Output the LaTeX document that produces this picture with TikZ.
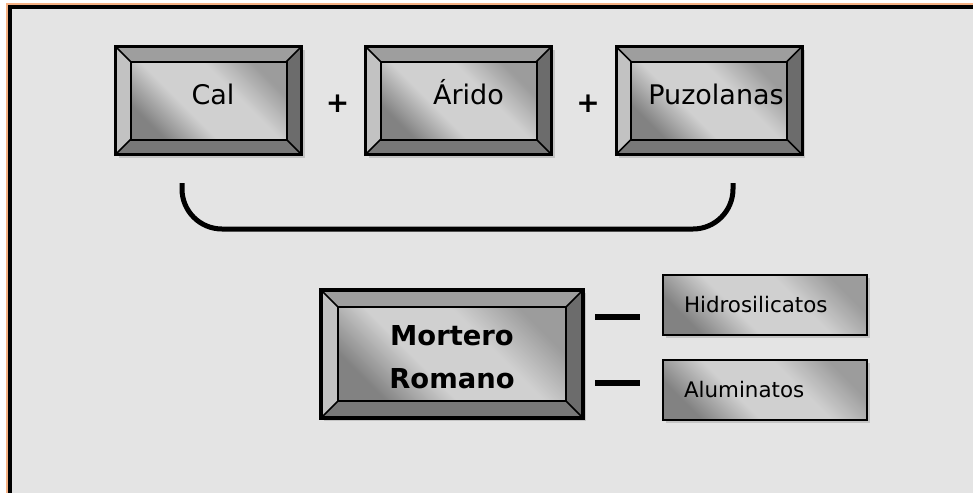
\documentclass[tikz,border=0pt]{standalone}
\usepackage{fontspec}
\setmainfont{DejaVu Sans}
\usetikzlibrary{shadows}

\definecolor{panel}{HTML}{E4E4E4}
\definecolor{frameorange}{HTML}{F6B183}
\definecolor{shadowgray}{HTML}{C4C4C4}
\definecolor{bevtop}{HTML}{9E9E9E}
\definecolor{bevleft}{HTML}{C2C2C2}
\definecolor{bevright}{HTML}{6C6C6C}
\definecolor{bevbottom}{HTML}{787878}
\definecolor{facedark}{HTML}{828282}
\definecolor{facelight}{HTML}{D0D0D0}
\definecolor{facemid}{HTML}{9C9C9C}

% diagonal face gradient: dark lower-left corner, broad light band, greyer upper-right corner
\pgfdeclareverticalshading{facegradient}{100bp}{%
  color(0bp)=(facedark); color(25bp)=(facedark); color(41bp)=(facelight);
  color(60bp)=(facelight); color(75bp)=(facemid); color(100bp)=(facemid)}

\tikzset{
  bevelsize/.store in=\bevsz, bevelsize=15pt,
  facegrad/.style={shading=facegradient, shading angle=-45},
  boxshadow/.style={drop shadow={shadow xshift=3pt, shadow yshift=-3pt, fill=shadowgray, opacity=1}},
  bevelbox/.style={
    rectangle, inner sep=0pt, draw=black, line width=3pt, boxshadow,
    path picture={
      \path (path picture bounding box.south west) coordinate (pp-sw)
            (path picture bounding box.south east) coordinate (pp-se)
            (path picture bounding box.north east) coordinate (pp-ne)
            (path picture bounding box.north west) coordinate (pp-nw);
      \path ([shift={(\bevsz,\bevsz)}]pp-sw) coordinate (pi-sw)
            ([shift={(-\bevsz,\bevsz)}]pp-se) coordinate (pi-se)
            ([shift={(-\bevsz,-\bevsz)}]pp-ne) coordinate (pi-ne)
            ([shift={(\bevsz,-\bevsz)}]pp-nw) coordinate (pi-nw);
      \fill[bevtop] (pp-nw) -- (pp-ne) -- (pi-ne) -- (pi-nw) -- cycle;
      \fill[bevleft] (pp-nw) -- (pi-nw) -- (pi-sw) -- (pp-sw) -- cycle;
      \fill[bevright] (pp-ne) -- (pp-se) -- (pi-se) -- (pi-ne) -- cycle;
      \fill[bevbottom] (pp-sw) -- (pi-sw) -- (pi-se) -- (pp-se) -- cycle;
      \draw[line width=1.6pt] (pp-nw) -- (pi-nw) (pp-ne) -- (pi-ne)
                              (pp-sw) -- (pi-sw) (pp-se) -- (pi-se);
      \shade[facegrad] (pi-sw) rectangle (pi-ne);
      \draw[line width=2pt] (pi-sw) rectangle (pi-ne);
    }
  },
  bigbox/.style={bevelbox, minimum width=186pt, minimum height=108pt,
    font={\fontsize{27}{32}\selectfont}, text height=20pt, text depth=12pt},
  resultbox/.style={bevelbox, bevelsize=17pt, line width=4pt,
    minimum width=262pt, minimum height=128pt, align=center,
    font={\bfseries\fontsize{27.4}{43}\selectfont}, text height=69pt, text depth=0pt},
  partbox/.style={rectangle, draw=black, line width=2.5pt, boxshadow, facegrad,
    minimum height=60pt, text width=162pt, inner xsep=21pt, align=left,
    font={\fontsize{21.4}{26}\selectfont}},
  plussign/.style={font={\bfseries\fontsize{28}{30}\selectfont}, inner sep=0pt},
  bracket/.style={line width=5pt, rounded corners=40pt},
  tick/.style={line width=6pt, shorten <=10pt, shorten >=22pt}
}

\begin{document}
\begin{tikzpicture}[x=1pt, y=-1pt]
  \useasboundingbox (0,0) rectangle (973,493);
  \fill[white] (0,0) rectangle (973,493);

  % panel frame
  \fill[frameorange] (5.5,2.5) rectangle (973,493);
  \fill[black] (8,5) rectangle (973,493);
  \fill[panel] (12,9) rectangle (973,493);

  % ingredients
  \node[bigbox] (cal) at (208.5,100.5) {\hspace*{9pt}Cal};
  \node[bigbox] (arido) at (458.5,100.5) {\hspace*{20pt}Árido};
  \node[bigbox] (puz) at (709,100.5) {\hspace*{14pt}Puzolanas};
  \node[plussign] (p1) at (337.5,104) {+};
  \node[plussign] (p2) at (588,104) {+};

  % grouping brace under the ingredients
  \coordinate (bl) at (182,183);
  \coordinate (br) at (733,183);
  \draw[bracket] (bl) -- (bl |- 0,229) -- (br |- 0,229) -- (br);

  % result and its components
  \node[resultbox] (mort) at (452,354) {Mortero\\Romano};
  \node[partbox] (hid) at (765,305) {Hidrosilicatos};
  \node[partbox] (alu) at (765,390) {Aluminatos};

  \path ([yshift=37pt]mort.east) coordinate (m1)
        ([yshift=-29pt]mort.east) coordinate (m2);
  \draw[tick] (m1) -- (m1 -| hid.west);
  \draw[tick] (m2) -- (m2 -| alu.west);
\end{tikzpicture}
\end{document}
